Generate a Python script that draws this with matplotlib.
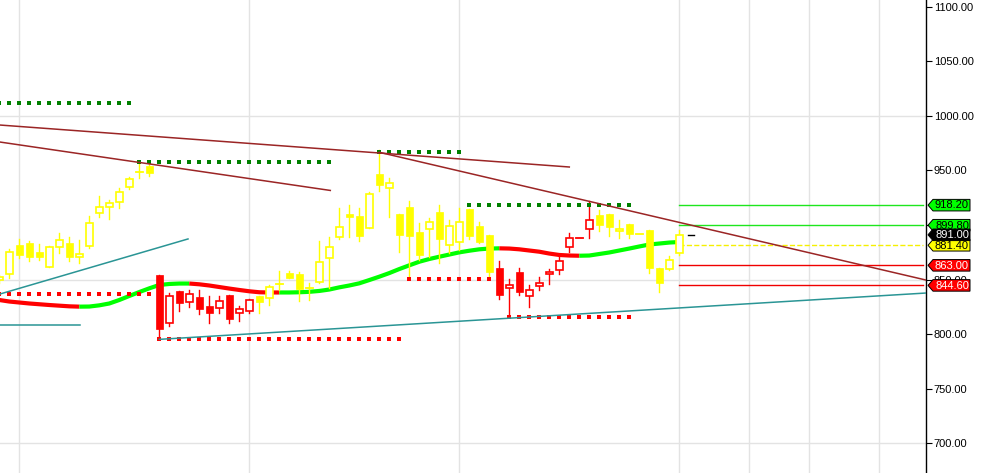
import matplotlib.pyplot as plt
from matplotlib.patches import Rectangle, Polygon

plt.rcParams['font.family'] = ['Liberation Sans', 'DejaVu Sans']

# ---------------------------------------
# Daily candles
# ---------------------------------------
opens = [849.5, 855.1, 881.7, 883.5, 875.2, 861.5, 879.8, 883.5, 870.6, 880.7,
         911.0, 916.5, 921.1, 934.9, 948.6, 954.1, 854.1, 810.1, 839.5, 829.4,
         833.9, 825.7, 823.9, 835.8, 819.3, 821.1, 834.9, 833.0, 845.9, 856.0,
         855.1, 842.2, 847.7, 869.7, 889.0, 910.1, 908.3, 897.3, 946.8, 934.0,
         910.1, 916.5, 893.6, 896.3, 911.9, 881.7, 884.4, 914.7, 899.1, 890.8,
         860.6, 842.2, 856.9, 834.9, 844.0, 855.1, 858.7, 879.8, 888.1, 896.3,
         909.2, 910.1, 894.5, 900.9, 891.7, 895.4, 860.6, 859.6, 874.3]
highs = [854.1, 878.0, 887.2, 885.3, 882.6, 880.7, 892.7, 889.0, 886.2, 908.3,
         926.6, 922.9, 933.9, 944.0, 956.9, 956.9, 854.1, 837.6, 839.5, 840.4,
         840.4, 834.9, 834.9, 835.8, 825.7, 832.1, 834.9, 845.0, 857.8, 857.8,
         856.9, 846.8, 885.3, 889.0, 915.6, 918.4, 915.6, 930.3, 968.8, 943.1,
         910.1, 922.0, 901.8, 906.4, 918.4, 904.6, 915.6, 914.7, 902.8, 890.8,
         867.0, 850.5, 860.6, 845.0, 852.3, 859.6, 872.5, 892.7, 888.1, 922.0,
         913.8, 910.1, 904.6, 900.9, 891.7, 895.4, 860.6, 871.6, 895.4]
lows = [846.8, 851.4, 869.7, 867.0, 867.9, 861.5, 874.3, 867.0, 865.1, 878.9,
        907.3, 905.5, 915.6, 933.0, 943.1, 945.0, 796.3, 807.3, 821.1, 824.8,
        818.4, 810.1, 819.3, 810.1, 811.9, 819.3, 819.3, 826.6, 840.4, 851.4,
        830.3, 831.2, 846.8, 842.2, 887.2, 889.0, 885.3, 897.3, 931.2, 907.3,
        875.2, 851.4, 867.9, 870.6, 865.1, 874.3, 877.1, 887.2, 883.5, 852.3,
        832.1, 815.6, 835.8, 824.8, 840.4, 845.9, 855.1, 875.2, 888.1, 888.1,
        894.5, 889.9, 888.1, 888.1, 891.7, 856.0, 838.5, 858.7, 872.5]
closes = [852.3, 875.2, 872.5, 870.6, 870.6, 879.8, 886.2, 870.6, 873.4, 901.8,
          916.5, 920.2, 930.3, 942.2, 948.9, 947.7, 804.6, 834.9, 828.4, 836.7,
          822.9, 819.3, 830.3, 813.8, 822.9, 831.2, 829.4, 843.1, 846.1, 851.4,
          841.3, 842.4, 866.1, 879.8, 898.2, 907.3, 889.9, 928.4, 936.7, 938.5,
          890.8, 889.9, 872.5, 902.8, 887.2, 899.1, 902.8, 889.9, 884.4, 856.9,
          835.8, 845.0, 838.5, 840.4, 846.8, 856.9, 867.0, 888.1, 888.1, 904.6,
          900.0, 898.2, 896.3, 891.7, 891.7, 860.6, 846.8, 867.9, 891.0]
candle_colour = ['Y'] * 16 + ['R'] * 10 + ['Y'] * 24 + ['R'] * 10 + ['Y'] * 9

# ---------------------------------------
# Trend indicator (value and state per candle, +1 green / -1 red)
# ---------------------------------------
trend_line = [831.2, 829.8, 828.9, 828.0, 827.3, 826.6, 826.0, 825.4, 825.1, 825.2,
              826.3, 828.0, 831.2, 834.9, 838.5, 841.9, 845.0, 845.9, 846.3, 846.3,
              845.6, 844.5, 843.1, 841.7, 840.4, 839.2, 838.3, 838.1, 838.1, 838.1,
              838.3, 838.7, 839.5, 840.8, 842.8, 844.5, 846.5, 849.5, 852.6, 855.9,
              859.6, 863.0, 866.3, 868.8, 870.9, 872.9, 874.9, 876.4, 877.7, 878.4,
              878.6, 878.4, 877.7, 876.6, 875.5, 873.8, 872.5, 872.0, 871.8, 872.0,
              873.4, 874.8, 876.6, 878.4, 880.3, 882.1, 883.0, 883.9, 884.4]
trend_state = [-1] * 8 + [1] * 11 + [-1] * 9 + [1] * 22 + [-1] * 8 + [1] * 11

# dotted resistance / support rows: first candle, last candle, price
green_dots = [(0, 13, 1011.9), (14, 33, 957.8), (38, 46, 967.0), (47, 63, 918.4)]
red_dots = [(0, 15, 836.7), (16, 40, 795.4), (41, 49, 850.5), (51, 63, 815.6)]

# trendlines: (x0, p0, x1, p1) in candle index / price
brown_lines = [(0.07, 991.7, 57.0, 953.2),
               (0.07, 976.1, 33.1, 931.7),
               (38.0, 966.7, 92.67, 849.5)]
teal_lines = [(0.07, 836.7, 18.87, 887.2),
              (0.07, 808.7, 8.07, 808.7),
              (16.0, 795.1, 92.67, 837.6)]

# right side levels
level_prices = [918.2, 899.8, 881.4, 863.0, 844.6]
level_colours = ['#1ee61e', '#1ee61e', '#f5f000', '#f00000', '#f00000']
last_price = 891.0

grid_x = [2, 25, 46, 68, 75, 81, 88]
grid_y = [1000, 850, 700]
y_ticks = [700, 750, 800, 850, 900, 950, 1000, 1050, 1100]

# ---------------------------------------
# Figure
# ---------------------------------------
fig = plt.figure(figsize=(9.87, 4.73), dpi=100)
ax = fig.add_axes([0, 0, 926 / 987, 1])
ax.set_xlim(0.07, 92.67)
ax.set_ylim(672.5, 1106.4)

for gx in grid_x:
    ax.axvline(gx, color='#e3e3e3', lw=1, zorder=0)
for gy in grid_y:
    ax.axhline(gy, color='#e3e3e3', lw=1, zorder=0)

# indicator line, split into coloured runs
n = len(trend_line)
start = 0
for k in range(1, n + 1):
    if k == n or trend_state[k] != trend_state[start]:
        end = min(k, n - 1)
        col = '#00ff00' if trend_state[start] > 0 else '#ff0000'
        ax.plot(range(start, end + 1), trend_line[start:end + 1], color=col,
                lw=3, solid_capstyle='butt', zorder=2)
        start = k

# candles
w = 0.66
for i in range(len(opens)):
    o, h, l, c = opens[i], highs[i], lows[i], closes[i]
    col = '#ffff00' if candle_colour[i] == 'Y' else '#ff0000'
    if h > l:
        ax.plot([i, i], [l, h], color=col, lw=1, zorder=3)
    if abs(c - o) < 0.6:
        ax.plot([i - w / 2, i + w / 2], [o, o], color=col, lw=1.3, zorder=4)
    elif c > o:
        ax.add_patch(Rectangle((i - w / 2, o), w, c - o, facecolor='white',
                               edgecolor=col, lw=1.2, zorder=4))
    else:
        ax.add_patch(Rectangle((i - w / 2, c), w, o - c, facecolor=col,
                               edgecolor=col, lw=0.5, zorder=4))

# dotted rows
for a, b, p in green_dots:
    xs = list(range(a, b + 1))
    ax.plot(xs, [p] * len(xs), ls='none', marker='s', ms=3.3, mew=0,
            color='#008000', zorder=5)
for a, b, p in red_dots:
    xs = list(range(a, b + 1))
    ax.plot(xs, [p] * len(xs), ls='none', marker='s', ms=3.3, mew=0,
            color='#ff0000', zorder=5)

# trendlines
for x0, p0, x1, p1 in brown_lines:
    ax.plot([x0, x1], [p0, p1], color='#9b2525', lw=1.1, zorder=6)
for x0, p0, x1, p1 in teal_lines:
    ax.plot([x0, x1], [p0, p1], color='#2a9595', lw=1.1, zorder=6)

# horizontal levels
for p, col in zip(level_prices, level_colours):
    ls = '--' if col == '#f5f000' else '-'
    ax.plot([68, 92.37], [p, p], color=col, lw=1, ls=ls, zorder=1)
ax.plot([68.9, 69.5], [last_price, last_price], color='black', lw=1, zorder=6)

# axis
for side in ['left', 'top', 'bottom']:
    ax.spines[side].set_visible(False)
ax.spines['right'].set_color('black')
ax.spines['right'].set_linewidth(1)
ax.set_xticks([])
ax.yaxis.tick_right()
ax.set_yticks(y_ticks)
ax.set_yticklabels(['%.2f' % t for t in y_ticks])
ax.tick_params(axis='y', length=4, width=0.8, pad=1.5, labelsize=8, colors='black')

# price tags
tag_ax = fig.add_axes([926 / 987, 0, 61 / 987, 1], zorder=5)
tag_ax.set_xlim(0, 61)
tag_ax.set_ylim(672.5, 1106.4)
tag_ax.axis('off')
tag_ax.patch.set_alpha(0)

tags = [(918.2, '#00ff00', 'black'), (899.8, '#00ff00', 'black'),
        (881.4, '#ffff00', 'black'), (last_price, 'black', 'white'),
        (863.0, '#ff0000', 'white'), (844.6, '#ff0000', 'white')]
hh = 5.3
for p, bg, fg in tags:
    pts = [(2, p), (7, p + hh), (44, p + hh), (44, p - hh), (7, p - hh)]
    tag_ax.add_patch(Polygon(pts, closed=True, facecolor=bg, edgecolor='black', lw=0.7))
    tag_ax.text(26, p - 0.3, '%.2f' % p, ha='center', va='center', fontsize=8, color=fg)

fig.savefig('out.png', dpi=100)
